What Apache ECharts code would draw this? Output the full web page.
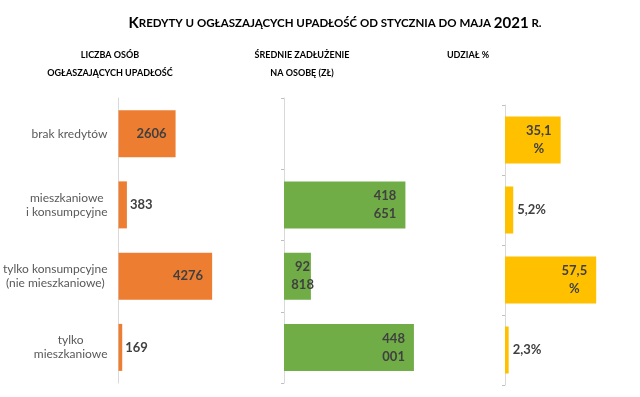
<!DOCTYPE html>
<html>
<head>
<meta charset="utf-8">
<script src="https://cdn.jsdelivr.net/npm/echarts@6/dist/echarts.min.js"></script>
<style>
  html, body { margin: 0; background: #fff; }
  #chart { width: 640px; height: 397px; }
</style>
</head>
<body>
<div id="chart"></div>
<script>
// dane
const categories = ['brak kredytów', 'mieszkaniowe\ni konsumpcyjne', 'tylko konsumpcyjne\n(nie mieszkaniowe)', 'tylko\nmieszkaniowe'];
const personCounts = [2606, 383, 4276, 169];
const avgDebt = [null, 418651, 92818, 448001];
const sharePct = [35.1, 5.2, 57.5, 2.3];
const headers = ['LICZBA OSÓB\nOGŁASZAJĄCYCH UPADŁOŚĆ', 'ŚREDNIE ZADŁUŻENIE\nNA OSOBĘ (ZŁ)', 'UDZIAŁ %'];

const FONT = 'Lato';
const TXT = '#404040';
const centerLines = s => s.split('\n').map(l => '{c|' + l + '}').join('\n');

const valueLabel = {
  show: true,
  fontFamily: FONT,
  fontWeight: 'bold',
  fontSize: 13,
  color: TXT,
  lineHeight: 18,
  rich: { c: { align: 'center', fontFamily: FONT, fontWeight: 'bold', fontSize: 13, color: TXT, lineHeight: 18 } },
};

function makeItems(values, isInside, fmtIn, fmtOut, distIn, distOut) {
  return values.map(v => {
    if (v == null) return null;
    const inside = isInside(v);
    return {
      value: v,
      label: {
        position: inside ? 'insideRight' : 'right',
        distance: inside ? distIn(v) : distOut,
        formatter: centerLines(inside ? fmtIn(v) : fmtOut(v)),
      },
    };
  });
}

const fmtDebt = v => String(v).replace(/\B(?=(\d{3})+(?!\d))/g, '\n');
const fmtPct = v => v.toFixed(1).replace('.', ',');

const grids = [
  { left: 118, top: 98, height: 285, width: 110 },
  { left: 284, top: 98, height: 285, width: 145 },
  { left: 505, top: 105, height: 280, width: 111 },
];
const maxes = [5000, 500000, 70];

const option = {
  animation: false,
  textStyle: { fontFamily: FONT },
  grid: grids,
  xAxis: maxes.map((m, i) => ({ type: 'value', gridIndex: i, min: 0, max: m, show: false })),
  yAxis: grids.map((g, i) => ({
    type: 'category',
    gridIndex: i,
    inverse: true,
    data: categories,
    axisLine: { show: true, lineStyle: { color: '#D9D9D9', width: 1 } },
    axisTick: { show: i > 0, length: 3, lineStyle: { color: '#BFBFBF' } },
    axisLabel: {
      show: i === 0,
      margin: 11,
      fontFamily: FONT,
      fontSize: 12,
      color: '#595959',
      lineHeight: 14,
      formatter: v => centerLines(v),
      rich: { c: { align: 'center', fontFamily: FONT, fontSize: 12, color: '#595959', lineHeight: 14 } },
    },
    splitLine: { show: false },
  })),
  series: [
    {
      type: 'bar', xAxisIndex: 0, yAxisIndex: 0, barWidth: 47,
      itemStyle: { color: '#ED7D31' },
      label: valueLabel,
      data: makeItems(personCounts, v => v >= 1000, v => String(v), v => String(v), () => 9, 3),
    },
    {
      type: 'bar', xAxisIndex: 1, yAxisIndex: 1, barWidth: 47,
      itemStyle: { color: '#70AD47' },
      label: valueLabel,
      data: makeItems(avgDebt, () => true, fmtDebt, fmtDebt, v => (v > 200000 ? 9 : -3), 3),
    },
    {
      type: 'bar', xAxisIndex: 2, yAxisIndex: 2, barWidth: 47,
      itemStyle: { color: '#FFC000' },
      label: valueLabel,
      data: makeItems(sharePct, v => v >= 20, v => fmtPct(v) + '\n%', v => fmtPct(v) + '%', () => 9, 4),
    },
  ],
  graphic: [
    {
      type: 'text', x: 335, y: 23,
      style: {
        text: '{a|K}{b|REDYTY U OGŁASZAJĄCYCH UPADŁOŚĆ OD STYCZNIA DO MAJA }{a|2021}{b| R.}',
        align: 'center', verticalAlign: 'middle',
        textAlign: 'center', textVerticalAlign: 'middle',
        rich: {
          a: { fontFamily: FONT, fontWeight: 'bold', fontSize: 15, color: '#262626' },
          b: { fontFamily: FONT, fontWeight: 'bold', fontSize: 11.5, color: '#262626' },
        },
      },
    },
    ...[[110, 64], [302, 64], [468, 55]].map((p, i) => ({
      type: 'text', x: p[0], y: p[1],
      style: {
        text: centerLines(headers[i]),
        align: 'center', verticalAlign: 'middle',
        textAlign: 'center', textVerticalAlign: 'middle',
        rich: { c: { align: 'center', fontFamily: FONT, fontWeight: 'bold', fontSize: 9, color: '#505050', lineHeight: 18 } },
      },
    })),
  ],
};

const chart = echarts.init(document.getElementById('chart'));
chart.setOption(option);
</script>
</body>
</html>
